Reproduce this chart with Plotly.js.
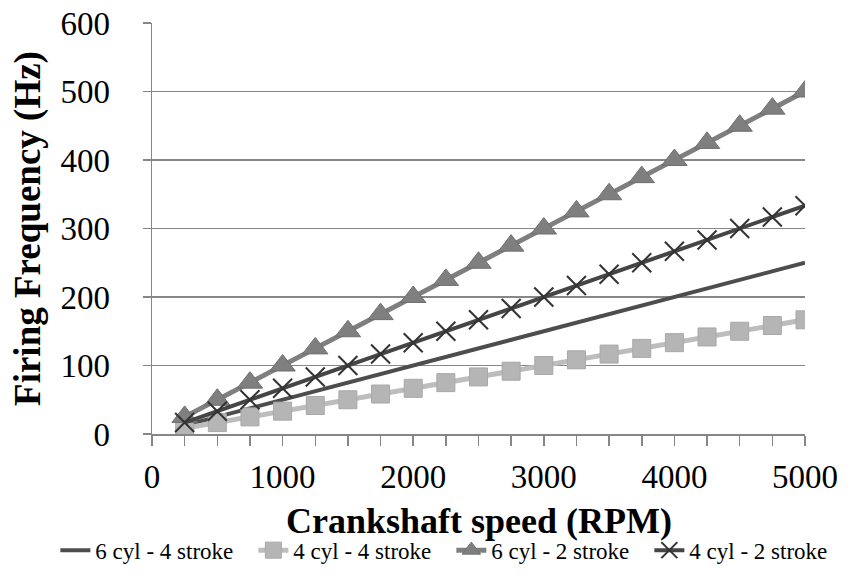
<!DOCTYPE html>
<html>
<head>
<meta charset="utf-8">
<script src="https://cdn.plot.ly/plotly-3.0.1.min.js"></script>
<style>html,body{margin:0;padding:0;background:#fff;}#chart{width:851px;height:587px;}</style>
</head>
<body>
<div id="chart"></div>
<script>
var rpm = [250,500,750,1000,1250,1500,1750,2000,2250,2500,2750,3000,3250,3500,3750,4000,4250,4500,4750,5000];
var cyl6stroke4 = [12.5,25,37.5,50,62.5,75,87.5,100,112.5,125,137.5,150,162.5,175,187.5,200,212.5,225,237.5,250];
var cyl4stroke4 = [8.33,16.67,25,33.33,41.67,50,58.33,66.67,75,83.33,91.67,100,108.33,116.67,125,133.33,141.67,150,158.33,166.67];
var cyl6stroke2 = [25,50,75,100,125,150,175,200,225,250,275,300,325,350,375,400,425,450,475,500];
var cyl4stroke2 = [16.67,33.33,50,66.67,83.33,100,116.67,133.33,150,166.67,183.33,200,216.67,233.33,250,266.67,283.33,300,316.67,333.33];
var seriesNames = ['6 cyl - 4 stroke','4 cyl - 4 stroke','6 cyl - 2 stroke','4 cyl - 2 stroke'];
var yTicks = [0,100,200,300,400,500,600];
var xTicks = [0,1000,2000,3000,4000,5000];
var xTitle = 'Crankshaft speed (RPM)';
var yTitle = 'Firing Frequency (Hz)';

var serif = 'Liberation Serif, Times New Roman, serif';
var traces = [
  {x: rpm, y: cyl6stroke4, name: seriesNames[0], mode: 'lines', type: 'scatter',
   line: {color: '#4d4d4d', width: 4}},
  {x: rpm, y: cyl4stroke4, name: seriesNames[1], mode: 'lines+markers', type: 'scatter',
   line: {color: '#bdbdbd', width: 5},
   marker: {symbol: 'square', size: 18, color: '#b5b5b5', line: {color: '#a8a8a8', width: 1}}},
  {x: rpm, y: cyl6stroke2, name: seriesNames[2], mode: 'lines+markers', type: 'scatter',
   line: {color: '#7f7f7f', width: 5},
   marker: {symbol: 'triangle-up', size: 22, color: '#7f7f7f', line: {color: '#6f6f6f', width: 1}}},
  {x: rpm, y: cyl4stroke2, name: seriesNames[3], mode: 'lines+markers', type: 'scatter',
   line: {color: '#454545', width: 4},
   marker: {symbol: 'x-thin', size: 19, color: '#333333', line: {color: '#333333', width: 2}}}
];

var layout = {
  width: 851, height: 587,
  margin: {l: 152, r: 46, t: 23, b: 153},
  paper_bgcolor: '#ffffff', plot_bgcolor: '#ffffff',
  font: {family: serif, color: '#000000', size: 30},
  showlegend: true,
  legend: {orientation: 'h', x: -0.148, xanchor: 'left', y: -0.335, yanchor: 'bottom',
           font: {family: serif, size: 23, color: '#000'}, entrywidth: 153, entrywidthmode: 'pixels',
           itemwidth: 30, tracegroupgap: 0},
  annotations: [{
    text: '<b>' + xTitle + '</b>', xref: 'paper', yref: 'paper', x: 0.5, y: -0.2117,
    xanchor: 'center', yanchor: 'middle', showarrow: false,
    font: {family: serif, size: 36, color: '#000'}
  }],
  xaxis: {
    range: [0, 5000], tickvals: xTicks, ticktext: xTicks.map(String),
    showgrid: false, zeroline: false,
    showline: true, linecolor: '#868686', linewidth: 1.5,
    ticks: 'outside', ticklen: 10, tickcolor: '#868686', tickwidth: 1.5,
    minor: {dtick: 250, tick0: 0, ticks: 'outside', ticklen: 10, tickcolor: '#868686', tickwidth: 1.5, showgrid: false},
    tickfont: {family: serif, size: 33, color: '#000'},
    ticklabelstandoff: 3,
    automargin: false, fixedrange: true
  },
  yaxis: {
    range: [0, 600], tickvals: yTicks, ticktext: yTicks.map(String),
    showgrid: true, gridcolor: '#878787', gridwidth: 1.2, zeroline: false,
    showline: true, linecolor: '#868686', linewidth: 1.5,
    ticks: 'outside', ticklen: 8, tickcolor: '#868686', tickwidth: 1.5,
    tickfont: {family: serif, size: 33, color: '#000'},
    ticklabelstandoff: 26,
    title: {text: '<b>' + yTitle + '</b>', font: {family: serif, size: 37, color: '#000'}, standoff: 8},
    automargin: false, fixedrange: true
  }
};

Plotly.newPlot('chart', traces, layout, {displayModeBar: false, staticPlot: true});
</script>
</body>
</html>
